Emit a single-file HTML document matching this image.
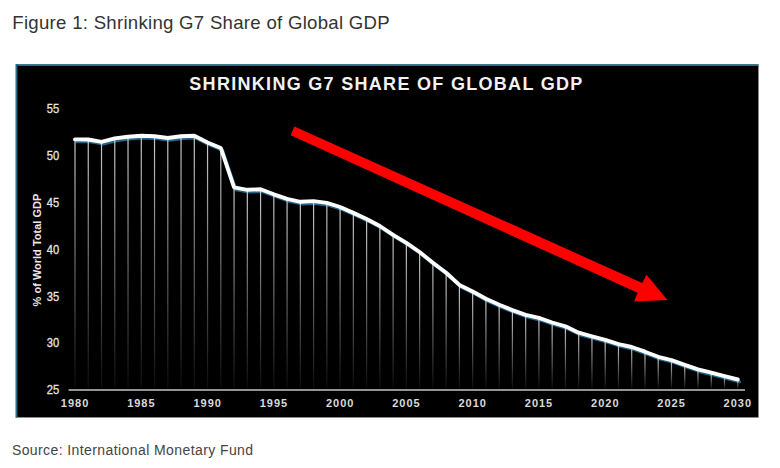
<!DOCTYPE html>
<html><head><meta charset="utf-8"><style>
html,body{margin:0;padding:0;background:#fff;}
body{width:780px;height:468px;overflow:hidden;position:relative;}
svg{position:absolute;left:0;top:0;}
.t1{font-family:"Liberation Sans",Arial,sans-serif;font-size:18.6px;fill:#333;letter-spacing:0.28px;}
.src{font-family:"Liberation Sans",Arial,sans-serif;font-size:14px;fill:#444;letter-spacing:0.41px;}
.ct{font-family:"Liberation Sans",Arial,sans-serif;font-size:18px;font-weight:700;fill:#f2f2f2;letter-spacing:1.3px;}
.yl{font-family:"Liberation Sans",Arial,sans-serif;font-size:12px;fill:#e4e4e4;stroke:#e4e4e4;stroke-width:0.3px;}
.xl{font-family:"Liberation Sans",Arial,sans-serif;font-size:11px;font-weight:700;fill:#dadada;letter-spacing:1px;}
.yt{font-family:"Liberation Sans",Arial,sans-serif;font-size:11px;font-weight:700;fill:#e8e8e8;}
</style></head><body>
<svg width="780" height="468" viewBox="0 0 780 468">
<defs>
<linearGradient id="dg" x1="0" y1="0" x2="0" y2="1">
<stop offset="0" stop-color="#cacaca"/><stop offset="1" stop-color="#0a0a0a"/>
</linearGradient>
<filter id="blur1" x="-5%" y="-5%" width="110%" height="110%"><feGaussianBlur stdDeviation="0.65"/></filter>
<filter id="blur2" x="-5%" y="-5%" width="110%" height="110%"><feGaussianBlur stdDeviation="0.35"/></filter>
</defs>
<text class="t1" x="12.3" y="28.7">Figure 1: Shrinking G7 Share of Global GDP</text>
<rect x="15" y="64" width="743" height="353" fill="#000"/>
<rect x="758" y="64.5" width="1" height="353" fill="#8a8a8a"/>
<rect x="15.5" y="417" width="743" height="1" fill="#8c8c8c"/>
<rect x="17" y="65" width="741" height="1" fill="#5a5a5a"/>
<rect x="17" y="65" width="1" height="352" fill="#2c2826"/>
<rect x="15" y="64" width="743.5" height="1" fill="#3b7895"/>
<rect x="15" y="64" width="1" height="353.5" fill="#8fb3c6"/>
<rect x="16" y="64" width="1" height="353.5" fill="#2f6a88"/>
<text class="ct" x="189.3" y="90.1">SHRINKING G7 SHARE OF GLOBAL GDP</text>
<rect x="68.5" y="389.2" width="676.5" height="1.6" fill="#b8b8b8"/>
<path d="M75.00,139.40 C75.00,139.40 88.25,139.50 88.25,139.50 C88.25,139.50 101.51,141.80 101.51,141.80 C101.51,141.80 114.77,138.40 114.77,138.40 C114.77,138.40 128.02,136.80 128.02,136.80 C128.02,136.80 141.28,135.80 141.28,135.80 C141.28,135.80 154.53,136.30 154.53,136.30 C154.53,136.30 167.79,138.00 167.79,138.00 C167.79,138.00 181.04,136.30 181.04,136.30 C181.04,136.30 194.30,135.80 194.30,135.80 C194.30,135.80 207.55,142.50 207.55,142.50 C207.55,142.50 220.81,148.00 220.81,148.00 C220.81,148.00 234.06,187.40 234.06,187.40 C234.06,187.40 247.31,189.80 247.31,189.80 C247.31,189.80 260.57,189.30 260.57,189.30 C260.57,189.30 273.83,194.30 273.83,194.30 C273.83,194.30 287.08,198.90 287.08,198.90 C287.08,198.90 300.34,201.80 300.34,201.80 C300.34,201.80 313.59,201.10 313.59,201.10 C313.59,201.10 326.85,202.90 326.85,202.90 C326.85,202.90 340.10,207.00 340.10,207.00 C340.10,207.00 353.36,212.90 353.36,212.90 C353.36,212.90 366.61,219.00 366.61,219.00 C366.61,219.00 379.87,226.00 379.87,226.00 C379.87,226.00 393.12,234.80 393.12,234.80 C393.12,234.80 406.38,242.80 406.38,242.80 C406.38,242.80 419.63,252.00 419.63,252.00 C419.63,252.00 432.89,262.80 432.89,262.80 C432.89,262.80 446.14,272.70 446.14,272.70 C446.14,272.70 459.40,284.90 459.40,284.90 C459.40,284.90 472.65,291.50 472.65,291.50 C472.65,291.50 485.91,298.80 485.91,298.80 C485.91,298.80 499.16,304.80 499.16,304.80 C499.16,304.80 512.41,310.10 512.41,310.10 C512.41,310.10 525.67,314.80 525.67,314.80 C525.67,314.80 538.92,317.90 538.92,317.90 C538.92,317.90 552.18,322.50 552.18,322.50 C552.18,322.50 565.43,326.30 565.43,326.30 C565.43,326.30 578.69,332.70 578.69,332.70 C578.69,332.70 591.95,336.30 591.95,336.30 C591.95,336.30 605.20,339.80 605.20,339.80 C605.20,339.80 618.46,344.10 618.46,344.10 C618.46,344.10 631.71,347.00 631.71,347.00 C631.71,347.00 644.97,351.70 644.97,351.70 C644.97,351.70 658.22,356.80 658.22,356.80 C658.22,356.80 671.48,360.10 671.48,360.10 C671.48,360.10 684.73,364.80 684.73,364.80 C684.73,364.80 697.99,369.40 697.99,369.40 C697.99,369.40 711.24,372.70 711.24,372.70 C711.24,372.70 724.50,376.20 724.50,376.20 C724.50,376.20 737.75,379.50 737.75,379.50" fill="none" stroke="#216488" stroke-width="3.2" stroke-linejoin="round" stroke-linecap="round" transform="translate(1.7,2.2)" filter="url(#blur1)"/>
<rect x="74.40" y="139.40" width="1.2" height="249.20" fill="url(#dg)"/>
<rect x="87.66" y="139.50" width="1.2" height="249.10" fill="url(#dg)"/>
<rect x="100.91" y="141.80" width="1.2" height="246.80" fill="url(#dg)"/>
<rect x="114.17" y="138.40" width="1.2" height="250.20" fill="url(#dg)"/>
<rect x="127.42" y="136.80" width="1.2" height="251.80" fill="url(#dg)"/>
<rect x="140.68" y="135.80" width="1.2" height="252.80" fill="url(#dg)"/>
<rect x="153.93" y="136.30" width="1.2" height="252.30" fill="url(#dg)"/>
<rect x="167.19" y="138.00" width="1.2" height="250.60" fill="url(#dg)"/>
<rect x="180.44" y="136.30" width="1.2" height="252.30" fill="url(#dg)"/>
<rect x="193.70" y="135.80" width="1.2" height="252.80" fill="url(#dg)"/>
<rect x="206.95" y="142.50" width="1.2" height="246.10" fill="url(#dg)"/>
<rect x="220.21" y="148.00" width="1.2" height="240.60" fill="url(#dg)"/>
<rect x="233.46" y="187.40" width="1.2" height="201.20" fill="url(#dg)"/>
<rect x="246.72" y="189.80" width="1.2" height="198.80" fill="url(#dg)"/>
<rect x="259.97" y="189.30" width="1.2" height="199.30" fill="url(#dg)"/>
<rect x="273.23" y="194.30" width="1.2" height="194.30" fill="url(#dg)"/>
<rect x="286.48" y="198.90" width="1.2" height="189.70" fill="url(#dg)"/>
<rect x="299.74" y="201.80" width="1.2" height="186.80" fill="url(#dg)"/>
<rect x="312.99" y="201.10" width="1.2" height="187.50" fill="url(#dg)"/>
<rect x="326.25" y="202.90" width="1.2" height="185.70" fill="url(#dg)"/>
<rect x="339.50" y="207.00" width="1.2" height="181.60" fill="url(#dg)"/>
<rect x="352.75" y="212.90" width="1.2" height="175.70" fill="url(#dg)"/>
<rect x="366.01" y="219.00" width="1.2" height="169.60" fill="url(#dg)"/>
<rect x="379.26" y="226.00" width="1.2" height="162.60" fill="url(#dg)"/>
<rect x="392.52" y="234.80" width="1.2" height="153.80" fill="url(#dg)"/>
<rect x="405.77" y="242.80" width="1.2" height="145.80" fill="url(#dg)"/>
<rect x="419.03" y="252.00" width="1.2" height="136.60" fill="url(#dg)"/>
<rect x="432.29" y="262.80" width="1.2" height="125.80" fill="url(#dg)"/>
<rect x="445.54" y="272.70" width="1.2" height="115.90" fill="url(#dg)"/>
<rect x="458.80" y="284.90" width="1.2" height="103.70" fill="url(#dg)"/>
<rect x="472.05" y="291.50" width="1.2" height="97.10" fill="url(#dg)"/>
<rect x="485.31" y="298.80" width="1.2" height="89.80" fill="url(#dg)"/>
<rect x="498.56" y="304.80" width="1.2" height="83.80" fill="url(#dg)"/>
<rect x="511.81" y="310.10" width="1.2" height="78.50" fill="url(#dg)"/>
<rect x="525.07" y="314.80" width="1.2" height="73.80" fill="url(#dg)"/>
<rect x="538.32" y="317.90" width="1.2" height="70.70" fill="url(#dg)"/>
<rect x="551.58" y="322.50" width="1.2" height="66.10" fill="url(#dg)"/>
<rect x="564.83" y="326.30" width="1.2" height="62.30" fill="url(#dg)"/>
<rect x="578.09" y="332.70" width="1.2" height="55.90" fill="url(#dg)"/>
<rect x="591.35" y="336.30" width="1.2" height="52.30" fill="url(#dg)"/>
<rect x="604.60" y="339.80" width="1.2" height="48.80" fill="url(#dg)"/>
<rect x="617.86" y="344.10" width="1.2" height="44.50" fill="url(#dg)"/>
<rect x="631.11" y="347.00" width="1.2" height="41.60" fill="url(#dg)"/>
<rect x="644.37" y="351.70" width="1.2" height="36.90" fill="url(#dg)"/>
<rect x="657.62" y="356.80" width="1.2" height="31.80" fill="url(#dg)"/>
<rect x="670.88" y="360.10" width="1.2" height="28.50" fill="url(#dg)"/>
<rect x="684.13" y="364.80" width="1.2" height="23.80" fill="url(#dg)"/>
<rect x="697.38" y="369.40" width="1.2" height="19.20" fill="url(#dg)"/>
<rect x="710.64" y="372.70" width="1.2" height="15.90" fill="url(#dg)"/>
<rect x="723.89" y="376.20" width="1.2" height="12.40" fill="url(#dg)"/>
<rect x="737.15" y="379.50" width="1.2" height="9.10" fill="url(#dg)"/>
<path d="M75.00,139.40 C75.00,139.40 88.25,139.50 88.25,139.50 C88.25,139.50 101.51,141.80 101.51,141.80 C101.51,141.80 114.77,138.40 114.77,138.40 C114.77,138.40 128.02,136.80 128.02,136.80 C128.02,136.80 141.28,135.80 141.28,135.80 C141.28,135.80 154.53,136.30 154.53,136.30 C154.53,136.30 167.79,138.00 167.79,138.00 C167.79,138.00 181.04,136.30 181.04,136.30 C181.04,136.30 194.30,135.80 194.30,135.80 C194.30,135.80 207.55,142.50 207.55,142.50 C207.55,142.50 220.81,148.00 220.81,148.00 C220.81,148.00 234.06,187.40 234.06,187.40 C234.06,187.40 247.31,189.80 247.31,189.80 C247.31,189.80 260.57,189.30 260.57,189.30 C260.57,189.30 273.83,194.30 273.83,194.30 C273.83,194.30 287.08,198.90 287.08,198.90 C287.08,198.90 300.34,201.80 300.34,201.80 C300.34,201.80 313.59,201.10 313.59,201.10 C313.59,201.10 326.85,202.90 326.85,202.90 C326.85,202.90 340.10,207.00 340.10,207.00 C340.10,207.00 353.36,212.90 353.36,212.90 C353.36,212.90 366.61,219.00 366.61,219.00 C366.61,219.00 379.87,226.00 379.87,226.00 C379.87,226.00 393.12,234.80 393.12,234.80 C393.12,234.80 406.38,242.80 406.38,242.80 C406.38,242.80 419.63,252.00 419.63,252.00 C419.63,252.00 432.89,262.80 432.89,262.80 C432.89,262.80 446.14,272.70 446.14,272.70 C446.14,272.70 459.40,284.90 459.40,284.90 C459.40,284.90 472.65,291.50 472.65,291.50 C472.65,291.50 485.91,298.80 485.91,298.80 C485.91,298.80 499.16,304.80 499.16,304.80 C499.16,304.80 512.41,310.10 512.41,310.10 C512.41,310.10 525.67,314.80 525.67,314.80 C525.67,314.80 538.92,317.90 538.92,317.90 C538.92,317.90 552.18,322.50 552.18,322.50 C552.18,322.50 565.43,326.30 565.43,326.30 C565.43,326.30 578.69,332.70 578.69,332.70 C578.69,332.70 591.95,336.30 591.95,336.30 C591.95,336.30 605.20,339.80 605.20,339.80 C605.20,339.80 618.46,344.10 618.46,344.10 C618.46,344.10 631.71,347.00 631.71,347.00 C631.71,347.00 644.97,351.70 644.97,351.70 C644.97,351.70 658.22,356.80 658.22,356.80 C658.22,356.80 671.48,360.10 671.48,360.10 C671.48,360.10 684.73,364.80 684.73,364.80 C684.73,364.80 697.99,369.40 697.99,369.40 C697.99,369.40 711.24,372.70 711.24,372.70 C711.24,372.70 724.50,376.20 724.50,376.20 C724.50,376.20 737.75,379.50 737.75,379.50" fill="none" stroke="#fff" stroke-width="3.9" filter="url(#blur2)" stroke-linejoin="round" stroke-linecap="round"/>
<g class="yl"><text transform="translate(59.1,113.20) scale(0.93,1)" text-anchor="end">55</text><text transform="translate(59.1,160.05) scale(0.93,1)" text-anchor="end">50</text><text transform="translate(59.1,206.90) scale(0.93,1)" text-anchor="end">45</text><text transform="translate(59.1,253.75) scale(0.93,1)" text-anchor="end">40</text><text transform="translate(59.1,300.60) scale(0.93,1)" text-anchor="end">35</text><text transform="translate(59.1,347.45) scale(0.93,1)" text-anchor="end">30</text><text transform="translate(59.1,394.30) scale(0.93,1)" text-anchor="end">25</text></g>
<g class="xl"><text x="75.10" y="407" text-anchor="middle">1980</text><text x="141.38" y="407" text-anchor="middle">1985</text><text x="207.65" y="407" text-anchor="middle">1990</text><text x="273.93" y="407" text-anchor="middle">1995</text><text x="340.20" y="407" text-anchor="middle">2000</text><text x="406.48" y="407" text-anchor="middle">2005</text><text x="472.75" y="407" text-anchor="middle">2010</text><text x="539.02" y="407" text-anchor="middle">2015</text><text x="605.30" y="407" text-anchor="middle">2020</text><text x="671.58" y="407" text-anchor="middle">2025</text><text x="737.85" y="407" text-anchor="middle">2030</text></g>
<text class="yt" transform="translate(40.8,306.4) rotate(-90)">% of World Total GDP</text>
<polygon points="294.4,126.4 290.8,135.3 637.7,292.8 634.1,301.4 667.4,300.1 646.5,274.7 642.2,283.0" fill="#ff0000"/>
<text class="src" x="11.9" y="455.3">Source: International Monetary Fund</text>
</svg>
</body></html>
